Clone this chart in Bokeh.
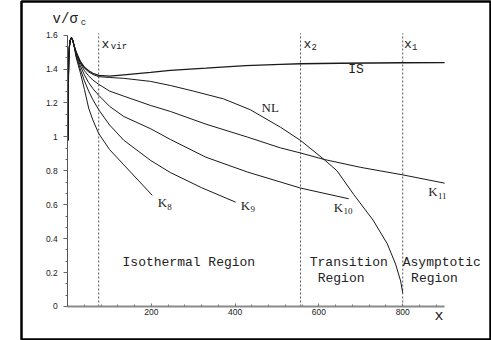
from bokeh.plotting import figure
from bokeh.models import Range1d, FixedTicker, Label
from bokeh.embed import file_html
from bokeh.resources import INLINE

# ---- data ----
rise_x = [0.8, 1.5, 2.5, 4, 6, 9, 12, 15]
rise_y = [0.98, 1.30, 1.45, 1.53, 1.57, 1.585, 1.57, 1.54]

is_x = [20, 30, 40, 50, 60, 74, 100, 134, 198, 245, 330, 425, 508, 556, 650, 800, 900]
is_y = [1.50, 1.445, 1.41, 1.39, 1.375, 1.362, 1.358, 1.366, 1.38, 1.392, 1.405, 1.42, 1.427, 1.431, 1.434, 1.437, 1.438]

nl_x = [20, 30, 40, 50, 60, 74, 100, 134, 198, 245, 300, 372, 436, 508, 556, 612, 643, 683, 729, 763, 783, 795, 800]
nl_y = [1.50, 1.44, 1.405, 1.383, 1.368, 1.355, 1.35, 1.345, 1.327, 1.303, 1.27, 1.224, 1.16, 1.057, 0.979, 0.867, 0.80, 0.66, 0.51, 0.37, 0.25, 0.15, 0.08]

k11_x = [20, 30, 40, 50, 60, 74, 100, 134, 198, 245, 330, 430, 508, 556, 612, 700, 800, 900]
k11_y = [1.50, 1.435, 1.39, 1.36, 1.335, 1.31, 1.27, 1.24, 1.185, 1.15, 1.075, 0.998, 0.935, 0.905, 0.867, 0.82, 0.776, 0.727]

k10_x = [20, 30, 40, 50, 60, 74, 100, 134, 198, 245, 330, 430, 556, 671]
k10_y = [1.49, 1.42, 1.365, 1.32, 1.285, 1.245, 1.18, 1.12, 1.048, 0.985, 0.88, 0.792, 0.698, 0.635]

k9_x = [20, 30, 40, 50, 60, 74, 100, 134, 198, 245, 320, 401]
k9_y = [1.48, 1.40, 1.33, 1.27, 1.22, 1.16, 1.07, 0.98, 0.861, 0.79, 0.70, 0.615]

k8_x = [20, 30, 40, 50, 60, 74, 100, 134, 170, 202]
k8_y = [1.47, 1.38, 1.28, 1.17, 1.10, 1.02, 0.925, 0.835, 0.74, 0.655]

region_x = [74, 556, 800]          # x_vir, x2, x1
region_top = 1.61

x_ticks = [200, 400, 600, 800]
x_minor = [40, 80, 120, 160, 240, 280, 320, 360, 440, 480, 520, 560,
           640, 680, 720, 760, 840, 880]
y_ticks = [0, 0.2, 0.4, 0.6, 0.8, 1, 1.2, 1.4, 1.6]
y_minor = [round(i / 15, 4) for i in range(0, 25)]

# ---- figure: the plot frame is the outer box, axes sit inside it ----
p = figure(width=491, height=340, output_backend="svg", toolbar_location=None,
           x_range=Range1d(-110.3, 1009.6), y_range=Range1d(-0.1946, 1.798),
           min_border_left=21, min_border_right=1, min_border_top=1,
           min_border_bottom=1)
p.grid.visible = False
p.outline_line_color = "black"
p.outline_line_width = 2.5
p.background_fill_color = "white"
p.border_fill_color = "white"

xa = p.xaxis[0]
xa.fixed_location = 0
xa.bounds = (0, 900)
xa.ticker = FixedTicker(ticks=x_ticks, minor_ticks=x_minor)
xa.axis_line_color = "#8a8a8a"
xa.axis_line_width = 1.8
xa.major_tick_in = 3
xa.major_tick_out = 0
xa.minor_tick_in = 2
xa.minor_tick_out = 0
xa.major_tick_line_color = "#777"
xa.minor_tick_line_color = "#777"
xa.major_label_standoff = 3
xa.major_label_text_font = "Liberation Sans"
xa.major_label_text_font_size = "8.5px"
xa.major_label_text_color = "#222"

ya = p.yaxis[0]
ya.fixed_location = 0
ya.bounds = (0, 1.6)
ya.ticker = FixedTicker(ticks=y_ticks, minor_ticks=y_minor)
ya.axis_line_color = "#555"
ya.axis_line_width = 1
ya.major_tick_in = 0
ya.major_tick_out = 4
ya.minor_tick_in = 0
ya.minor_tick_out = 2
ya.major_tick_line_color = "#666"
ya.minor_tick_line_color = "#666"
ya.major_label_standoff = 6
ya.major_label_text_font = "Liberation Sans"
ya.major_label_text_font_size = "8.5px"
ya.major_label_text_color = "#222"
ya.major_label_overrides = {0: "0", 1: "1"}

# dashed region boundaries
p.segment(x0=region_x, y0=[0] * len(region_x), x1=region_x,
          y1=[region_top] * len(region_x),
          line_color="#555", line_width=1, line_dash="2 2")

curve_color = "#1a1a1a"
for xs, ys, w in [(is_x, is_y, 1.3), (nl_x, nl_y, 1.0), (k11_x, k11_y, 1.0),
                  (k10_x, k10_y, 1.0), (k9_x, k9_y, 1.0), (k8_x, k8_y, 1.0)]:
    p.line(rise_x + xs, rise_y + ys, line_color=curve_color, line_width=w)

MONO = "Liberation Mono"
SERIF = "Liberation Serif"


def lab(x, y, t, font=MONO, size="13px", color="#222"):
    p.add_layout(Label(x=x, y=y, text=t, text_font=font, text_font_size=size,
                       text_align="left", text_baseline="middle",
                       text_color=color))


# y-axis title v/sigma_c
lab(-36, 1.695, "v/σ", size="14px")
lab(31, 1.672, "c", size="9px")
# region markers
lab(81, 1.545, "x")
lab(103, 1.527, "vir", size="9px")
lab(563, 1.545, "x")
lab(582, 1.527, "2", size="9px")
lab(803, 1.545, "x")
lab(822, 1.527, "1", size="9px")
# curve labels
lab(670, 1.397, "IS")
lab(463, 1.173, "NL", font=SERIF, size="13px")
lab(215, 0.613, "K", font=SERIF)
lab(238, 0.588, "8", font=SERIF, size="9px")
lab(413, 0.596, "K", font=SERIF)
lab(436.5, 0.572, "9", font=SERIF, size="9px")
lab(635.5, 0.584, "K", font=SERIF)
lab(658.5, 0.560, "10", font=SERIF, size="9px")
lab(861, 0.678, "K", font=SERIF)
lab(884, 0.654, "11", font=SERIF, size="9px")
# region names
lab(131, 0.259, "Isothermal Region")
lab(578, 0.259, "Transition")
lab(597, 0.165, "Region")
lab(800, 0.259, "Asymptotic")
lab(820, 0.165, "Region")
# x axis title
lab(876, -0.059, "x", size="15px")

open("out.html", "w").write(file_html(p, INLINE))
